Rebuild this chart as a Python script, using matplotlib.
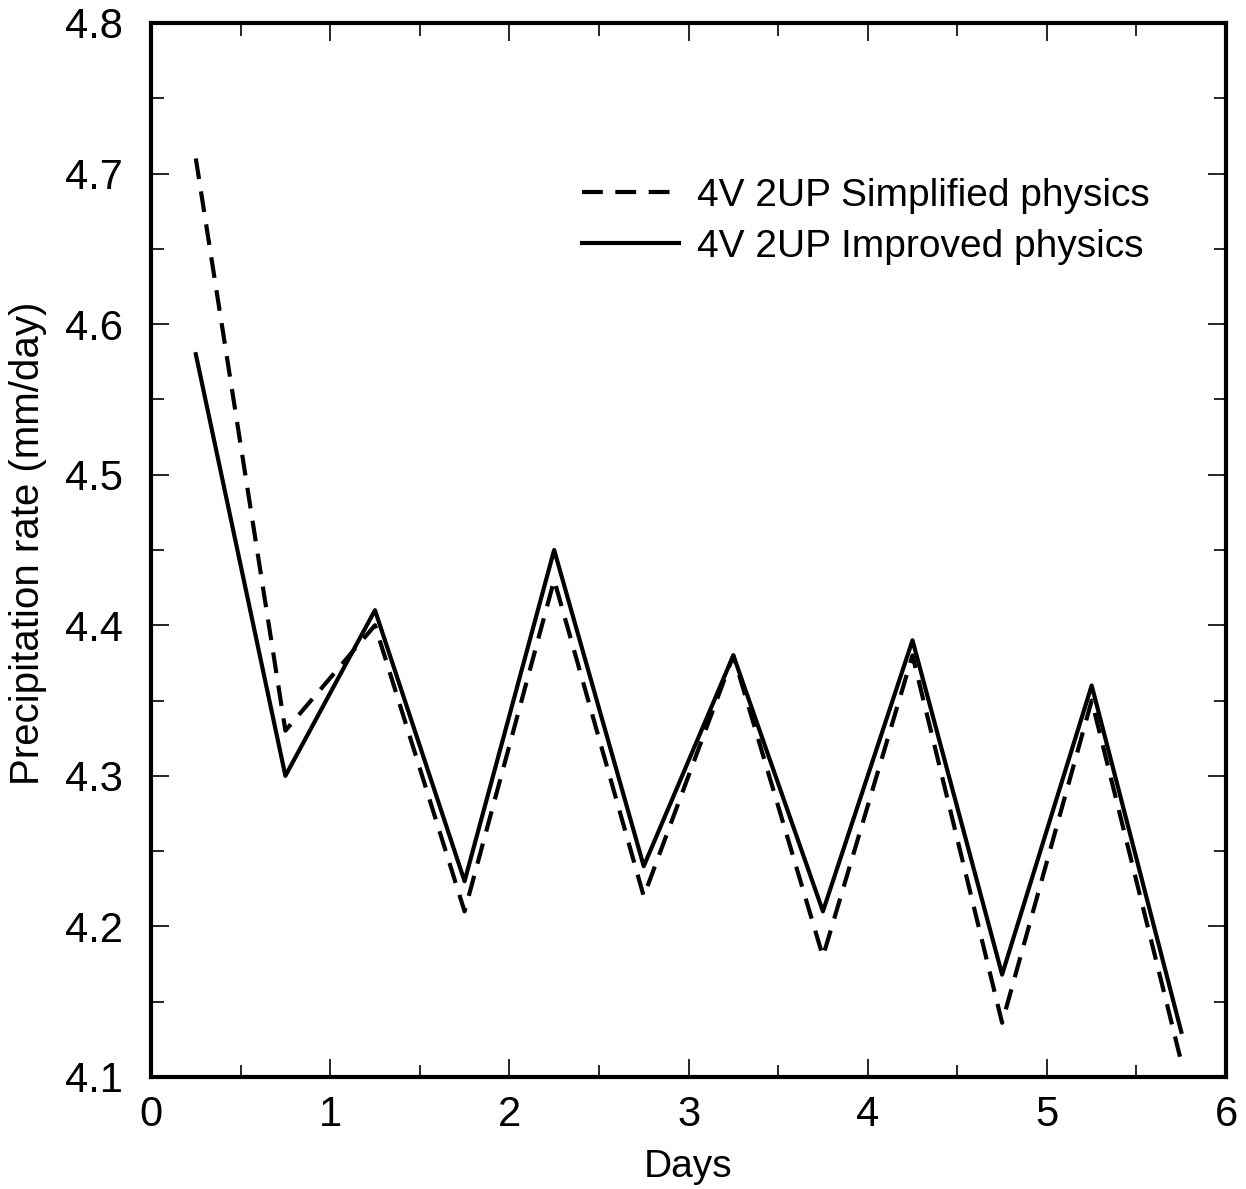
import matplotlib
matplotlib.use("Agg")
import matplotlib.pyplot as plt
from matplotlib.ticker import MultipleLocator

days = [0.25, 0.75, 1.25, 1.75, 2.25, 2.75, 3.25, 3.75, 4.25, 4.75, 5.25, 5.75]
simplified = [4.71, 4.33, 4.40, 4.21, 4.43, 4.22, 4.38, 4.18, 4.38, 4.136, 4.35, 4.11]
improved = [4.58, 4.30, 4.41, 4.23, 4.45, 4.24, 4.38, 4.21, 4.39, 4.168, 4.36, 4.13]
labels = ["4V 2UP Simplified physics", "4V 2UP Improved physics"]

plt.rcParams['font.family'] = ['Liberation Sans', 'DejaVu Sans']

fig = plt.figure(figsize=(12.46, 11.89), dpi=100)
ax = fig.add_axes([0.1212, 0.0942, 0.8628, 0.8865])

ax.plot(days, simplified, color='black', lw=3, linestyle=(0, (5, 3)), label=labels[0])
ax.plot(days, improved, color='black', lw=3, linestyle='-', label=labels[1])

ax.set_xlim(0, 6)
ax.set_ylim(4.1, 4.8)
ax.xaxis.set_major_locator(MultipleLocator(1))
ax.xaxis.set_minor_locator(MultipleLocator(0.5))
ax.yaxis.set_major_locator(MultipleLocator(0.1))
ax.yaxis.set_minor_locator(MultipleLocator(0.05))
ax.tick_params(which='both', direction='in', top=True, right=True, labelsize=30, width=1.2)
ax.tick_params(which='major', length=13)
ax.tick_params(which='minor', length=9)
ax.tick_params(axis='y', which='major', pad=20)
ax.tick_params(axis='x', which='major', pad=13)
ax.yaxis.set_major_formatter(matplotlib.ticker.FormatStrFormatter('%.1f'))
for s in ax.spines.values():
    s.set_linewidth(3)

ax.set_xlabel("Days", fontsize=28, labelpad=10)
ax.set_ylabel("Precipitation rate (mm/day)", fontsize=29)
ax.yaxis.set_label_coords(-0.097, 0.506)

ax.legend(loc='upper left', bbox_to_anchor=(0.401, 0.853), frameon=False,
          fontsize=28, handlelength=2.5, handletextpad=0.45, labelspacing=0.38,
          borderpad=0, borderaxespad=0)

fig.savefig("out.png", dpi=100)
